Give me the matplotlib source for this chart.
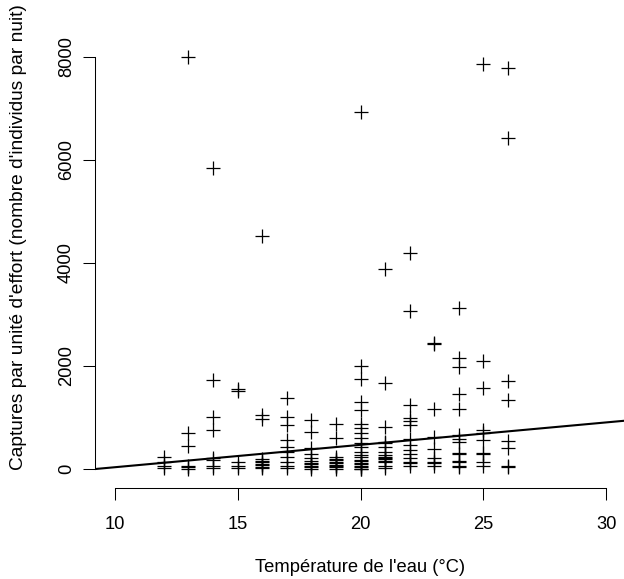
import numpy as np
import matplotlib
matplotlib.use("Agg")
import matplotlib.pyplot as plt

# température de l'eau (°C) pour chaque capture
temperature = [
    12, 12, 12, 12,
    13, 13, 13, 13, 13, 13,
    14, 14, 14, 14, 14, 14, 14, 14,
    15, 15, 15, 15, 15,
    16, 16, 16, 16, 16, 16, 16, 16, 16, 16,
    17, 17, 17, 17, 17, 17, 17, 17, 17, 17,
    18, 18, 18, 18, 18, 18, 18, 18, 18, 18, 18,
    19, 19, 19, 19, 19, 19, 19, 19, 19, 19, 19,
    20, 20, 20, 20, 20, 20, 20, 20, 20, 20, 20, 20, 20, 20, 20, 20, 20, 20,
    20, 20, 20, 20,
    21, 21, 21, 21, 21, 21, 21, 21, 21, 21, 21, 21, 21, 21, 21,
    22, 22, 22, 22, 22, 22, 22, 22, 22, 22, 22, 22, 22, 22,
    23, 23, 23, 23, 23, 23, 23, 23, 23,
    24, 24, 24, 24, 24, 24, 24, 24, 24, 24, 24, 24, 24, 24,
    25, 25, 25, 25, 25, 25, 25, 25, 25, 25,
    26, 26, 26, 26, 26, 26, 26, 26,
]

# captures par unité d'effort
captures = [
    230, 140, 60, 20,
    8000, 700, 440, 60, 30, 10,
    5850, 1730, 1010, 750, 210, 180, 50, 20,
    1550, 1510, 140, 50, 20,
    4520, 1040, 970, 190, 160, 130, 100, 70, 40, 20,
    1370, 1010, 850, 560, 430, 330, 240, 140, 50, 20,
    960, 720, 400, 300, 210, 150, 120, 100, 60, 30, 10,
    880, 600, 240, 200, 170, 140, 110, 80, 60, 30, 10,
    6930, 2000, 1750, 1300, 1150, 880, 790, 690, 600, 500, 430, 340, 270, 240,
    180, 150, 120, 90, 60, 30, 10, 0,
    3890, 1660, 820, 530, 500, 430, 340, 270, 240, 210, 190, 160, 140, 50, 20,
    4190, 3060, 1250, 1000, 930, 860, 590, 460, 370, 300, 210, 140, 110, 50,
    2440, 2420, 1170, 630, 380, 210, 140, 110, 50,
    3120, 2150, 1980, 1460, 1170, 660, 590, 530, 320, 290, 150, 130, 60, 40,
    7850, 2100, 1570, 750, 690, 560, 310, 290, 140, 50,
    7780, 6420, 1700, 1340, 540, 400, 60, 40,
]

# droite de régression
intercept = -400
pente = 43.5

x_ticks = [10, 15, 20, 25, 30]
y_ticks = [0, 2000, 4000, 6000, 8000]

plt.rcParams['font.family'] = ['Liberation Sans', 'DejaVu Sans']

W, H = 624, 579
fig = plt.figure(figsize=(W / 100, H / 100), dpi=100)
ax = fig.add_axes([95 / W, (H - 487.6) / H, 531 / W, 501 / H])

ax.plot(temperature, captures, linestyle='none', marker='+', ms=9.4,
        mew=0.9, color='black')
ax.axline((0, intercept), slope=pente, color='black', lw=1.5)

ax.set_xlim(9.2, 30.8)
ax.set_ylim(-360, 9360)

for s in ['top', 'right']:
    ax.spines[s].set_visible(False)
ax.spines['bottom'].set_bounds(10, 30)
ax.spines['left'].set_bounds(0, 8000)
for s in ['bottom', 'left']:
    ax.spines[s].set_linewidth(0.75)

ax.set_xticks(x_ticks)
ax.set_yticks(y_ticks)
ax.tick_params(axis='both', length=8.5, width=0.75, labelsize=13.2,
               colors='black')
ax.tick_params(axis='x', pad=12)
ax.tick_params(axis='y', pad=6)
plt.setp(ax.get_yticklabels(), rotation=90, va='center')

ax.set_xlabel("Température de l'eau (°C)", fontsize=13.2)
ax.set_ylabel("Captures par unité d'effort (nombre d'individus par nuit)",
              fontsize=13.8)
ax.xaxis.set_label_coords(0.5, -0.142)
ax.yaxis.set_label_coords((27 - 95) / 531, 0.5)

fig.savefig('out.png', dpi=100)
